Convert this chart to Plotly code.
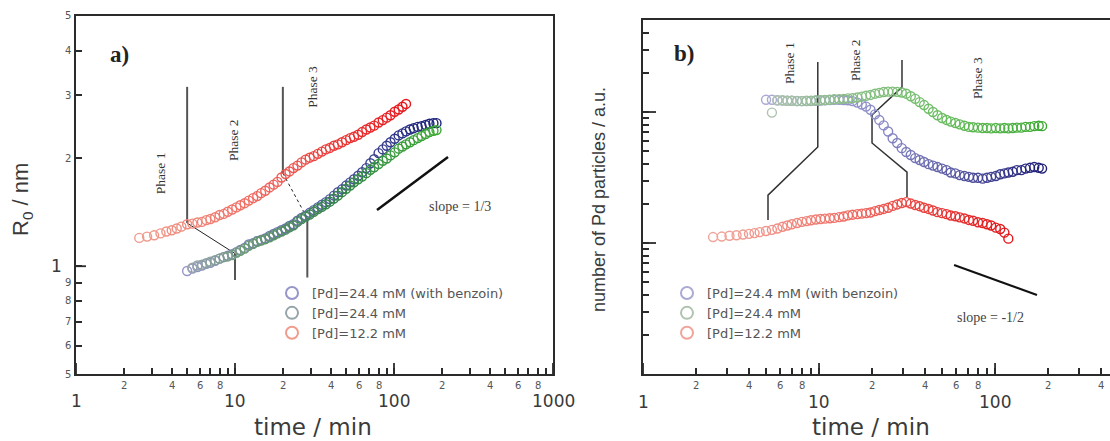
import math
import plotly.graph_objects as go

# ---------------- data ----------------
# sampling times (min)
t_red = [2.5, 2.8, 3.1, 3.4, 3.7, 4.0, 4.3, 4.6, 5.0, 5.4,
         5.8, 6.2, 6.6, 7.0, 7.5, 8.0, 8.5, 9.0, 9.6, 10.2,
         10.8, 11.5, 12.2, 13.0, 13.8, 14.6, 15.5, 16.5, 17.5, 18.5,
         19.6, 20.8, 22.0, 23.3, 24.7, 26.2, 27.8, 29.5, 31.3, 33.2,
         35.2, 37.3, 39.5, 41.9, 44.4, 47.1, 50.0, 53, 56, 59.5,
         63, 67, 71, 75, 80, 85, 90, 95, 101, 107,
         113, 119]
t_blue = [5.0, 5.4, 5.8, 6.2, 6.6, 7.0, 7.5, 8.0, 8.5, 9.0,
          9.6, 10.2, 10.8, 11.5, 12.2, 13.0, 13.8, 14.6, 15.5, 16.5,
          17.5, 18.5, 19.6, 20.8, 22.0, 23.3, 24.7, 26.2, 27.8, 29.5,
          31.3, 33.2, 35.2, 37.3, 39.5, 41.9, 44.4, 47.1, 50.0, 53,
          56, 59.5, 63, 67, 71, 75, 80, 85, 90, 95,
          101, 107, 113, 119, 126, 133, 141, 149, 158, 167,
          177, 185]
t_green = [5.4, 5.8, 6.2, 6.6, 7.0, 7.5, 8.0, 8.5, 9.0, 9.6,
           10.2, 10.8, 11.5, 12.2, 13.0, 13.8, 14.6, 15.5, 16.5, 17.5,
           18.5, 19.6, 20.8, 22.0, 23.3, 24.7, 26.2, 27.8, 29.5, 31.3,
           33.2, 35.2, 37.3, 39.5, 41.9, 44.4, 47.1, 50.0, 53, 56,
           59.5, 63, 67, 71, 75, 80, 85, 90, 95, 101,
           107, 113, 119, 126, 133, 141, 149, 158, 167, 177,
           185]

# particle radius R0 (nm)
r0_red = [1.20, 1.21, 1.22, 1.235, 1.25, 1.26, 1.275, 1.29, 1.31, 1.315,
          1.325, 1.33, 1.345, 1.355, 1.37, 1.39, 1.40, 1.42, 1.44, 1.46,
          1.48, 1.50, 1.525, 1.55, 1.57, 1.60, 1.625, 1.66, 1.69, 1.72,
          1.77, 1.81, 1.84, 1.88, 1.91, 1.95, 1.985, 2.01, 2.03, 2.06,
          2.09, 2.12, 2.14, 2.17, 2.19, 2.22, 2.25, 2.28, 2.30, 2.33,
          2.37, 2.41, 2.44, 2.47, 2.52, 2.56, 2.60, 2.64, 2.70, 2.74,
          2.79, 2.84]
r0_blue = [0.97, 0.985, 0.995, 1.005, 1.015, 1.022, 1.035, 1.05, 1.06, 1.07,
           1.08, 1.095, 1.11, 1.125, 1.15, 1.16, 1.175, 1.185, 1.195, 1.215,
           1.23, 1.245, 1.26, 1.275, 1.295, 1.31, 1.34, 1.365, 1.385, 1.41,
           1.435, 1.46, 1.485, 1.51, 1.54, 1.575, 1.61, 1.64, 1.68, 1.715,
           1.75, 1.79, 1.83, 1.88, 1.94, 1.99, 2.07, 2.12, 2.17, 2.22,
           2.27, 2.32, 2.35, 2.38, 2.41, 2.43, 2.45, 2.46, 2.48, 2.50,
           2.51, 2.51]
r0_green = [0.99, 1.005, 1.01, 1.02, 1.03, 1.04, 1.05, 1.06, 1.065, 1.075,
            1.09, 1.105, 1.12, 1.14, 1.155, 1.17, 1.18, 1.19, 1.205, 1.22,
            1.235, 1.25, 1.265, 1.285, 1.30, 1.33, 1.355, 1.375, 1.395, 1.42,
            1.445, 1.465, 1.49, 1.515, 1.545, 1.575, 1.61, 1.645, 1.68, 1.715,
            1.75, 1.78, 1.82, 1.86, 1.89, 1.93, 1.97, 2.00, 2.04, 2.08,
            2.13, 2.16, 2.19, 2.22, 2.25, 2.28, 2.31, 2.34, 2.37, 2.39,
            2.40]

# number of Pd particles (a.u.)
n_red = [1.11, 1.12, 1.135, 1.145, 1.16, 1.175, 1.19, 1.21, 1.235, 1.26,
         1.29, 1.33, 1.36, 1.39, 1.42, 1.45, 1.47, 1.49, 1.51, 1.525,
         1.535, 1.545, 1.555, 1.575, 1.595, 1.625, 1.645, 1.66, 1.675, 1.69,
         1.71, 1.75, 1.785, 1.82, 1.86, 1.92, 1.97, 2.02, 2.05, 2.0,
         1.95, 1.91, 1.86, 1.82, 1.77, 1.72, 1.69, 1.66, 1.62, 1.60,
         1.57, 1.54, 1.50, 1.48, 1.44, 1.42, 1.39, 1.36, 1.31, 1.28,
         1.20, 1.08]
n_blue = [12.4, 12.4, 12.3, 12.25, 12.2, 12.2, 12.15, 12.1, 12.1, 12.15,
          12.2, 12.25, 12.3, 12.35, 12.4, 12.4, 12.35, 12.3, 12.1, 11.8,
          11.4, 11.0, 10.4, 9.6, 8.7, 7.9, 7.1, 6.3, 5.8, 5.3,
          4.95, 4.7, 4.45, 4.3, 4.15, 4.0, 3.9, 3.8, 3.7, 3.6,
          3.45, 3.4, 3.3, 3.25, 3.2, 3.15, 3.15, 3.1, 3.15, 3.2,
          3.25, 3.35, 3.4, 3.45, 3.5, 3.6, 3.6, 3.7, 3.75, 3.8,
          3.75, 3.7]
n_green = [9.9, 12.3, 12.3, 12.2, 12.2, 12.1, 12.1, 12.2, 12.2, 12.3,
           12.3, 12.35, 12.4, 12.5, 12.55, 12.6, 12.7, 12.75, 12.9, 13.1,
           13.3, 13.5, 13.8, 14.0, 14.2, 14.3, 14.3, 14.25, 14.1, 13.8,
           13.2, 12.6, 11.9, 11.3, 10.6, 10.0, 9.45, 9.0, 8.7, 8.45,
           8.25, 8.05, 7.85, 7.7, 7.65, 7.6, 7.55, 7.55, 7.5, 7.55,
           7.5, 7.55, 7.5, 7.55, 7.6, 7.6, 7.7, 7.7, 7.8, 7.85,
           7.8]

series_names = ["[Pd]=24.4 mM (with benzoin)", "[Pd]=24.4 mM", "[Pd]=12.2 mM"]

# tick values and labels
x_decades = [1, 10, 100, 1000]
x_decade_text = ["1", "10", "100", "1000"]
x_small = [2, 4, 6, 8, 20, 40, 60, 80, 200, 400, 600, 800]
x_small_text = ["2", "4", "6", "8"] * 3
x_minor = [m * d for d in (1, 10, 100) for m in range(2, 10)]

ya_small = [0.5, 0.6, 0.7, 0.8, 0.9, 2, 3, 4, 5]
ya_small_text = ["5", "6", "7", "8", "9", "2", "3", "4", "5"]
yb_decades = [1, 10]
yb_minor = [round(m * d, 3) for d in (0.1, 1, 10) for m in range(2, 10) if m * d <= 50]


# ---------------- styling helpers ----------------
def ramp(n, stops):
    """Colour gradient along a series (early points pale, late points saturated)."""
    out = []
    for i in range(n):
        f = i / (n - 1)
        c = stops[-1][1]
        for (f0, c0), (f1, c1) in zip(stops[:-1], stops[1:]):
            if f0 <= f <= f1:
                w = (f - f0) / (f1 - f0) if f1 > f0 else 0.0
                c = tuple(round(a + (b - a) * w) for a, b in zip(c0, c1))
                break
        out.append("rgb(%d,%d,%d)" % c)
    return out


AXC = "#2b2b2b"
TXT = "#3a3a3a"
SANS = "DejaVu Sans, Arial, sans-serif"
SANS_N = "Liberation Sans, Arial, sans-serif"
SERIF = "Liberation Serif, Times New Roman, serif"
L = math.log10

fig = go.Figure()


def line_trace(xs, ys, xa, ya, color, width, dash="solid"):
    fig.add_trace(go.Scatter(x=xs, y=ys, xaxis=xa, yaxis=ya, mode="lines",
                             line=dict(color=color, width=width, dash=dash),
                             showlegend=False, hoverinfo="skip"))


# phase brackets, panel a
line_trace([5, 5], [3.17, 1.32], "x", "y", "#555555", 2)
line_trace([5, 10], [1.32, 1.085], "x", "y", "#222222", 1)
line_trace([10, 10], [1.085, 0.915], "x", "y", "#555555", 2)
line_trace([20, 20], [3.17, 1.82], "x", "y", "#555555", 2)
line_trace([20, 28.5], [1.82, 1.36], "x", "y", "#222222", 1, "dot")
line_trace([28.5, 28.5], [1.36, 0.93], "x", "y", "#555555", 2)
# slope guide, panel a
line_trace([78.2, 218.6], [1.436, 2.02], "x", "y", "#111111", 2.5)

# phase brackets, panel b
line_trace([9.84, 9.84, 5.13, 5.13], [24.1, 5.41, 2.32, 1.50], "x2", "y2", "#333333", 1.5)
line_trace([29.6, 29.6, 20.0, 20.0, 31.6, 31.6], [24.9, 15.5, 9.49, 5.8, 3.48, 2.24],
           "x2", "y2", "#333333", 1.5)
# slope guide, panel b
line_trace([58.5, 173], [0.679, 0.401], "x2", "y2", "#111111", 2)

# data
pal_a = [
    [(0, (150, 150, 200)), (0.5, (90, 100, 165)), (1, (25, 30, 120))],
    [(0, (150, 165, 170)), (0.2, (110, 155, 120)), (0.55, (50, 130, 75)), (1, (60, 170, 50))],
    [(0, (240, 155, 140)), (0.35, (240, 110, 100)), (1, (230, 20, 25))],
]
pal_b = [
    [(0, (170, 170, 210)), (0.4, (140, 140, 200)), (1, (30, 30, 120))],
    [(0, (175, 195, 175)), (0.15, (150, 190, 150)), (0.6, (110, 190, 100)), (1, (60, 170, 50))],
    [(0, (240, 165, 155)), (0.4, (240, 110, 100)), (1, (225, 20, 25))],
]
sets_a = [(t_blue, r0_blue), (t_green, r0_green), (t_red, r0_red)]
sets_b = [(t_blue, n_blue), (t_green, n_green), (t_red, n_red)]

for name, (tt, vv), pal in zip(series_names, sets_a, pal_a):
    fig.add_trace(go.Scatter(
        x=tt, y=vv, xaxis="x", yaxis="y", mode="markers", name=name,
        legend="legend",
        marker=dict(symbol="circle-open", size=9, color=ramp(len(tt), pal),
                    line=dict(width=1.4))))
for name, (tt, vv), pal in zip(series_names, sets_b, pal_b):
    fig.add_trace(go.Scatter(
        x=tt, y=vv, xaxis="x2", yaxis="y2", mode="markers", name=name,
        legend="legend2",
        marker=dict(symbol="circle-open", size=9, color=ramp(len(tt), pal),
                    line=dict(width=1.4))))

# ---------------- axes ----------------
dom_a = [76 / 1110, 553 / 1110]
dom_b = [643 / 1110, 1.0]
dom_ya = [1 - 374 / 441, 1 - 16 / 441]
dom_yb = [1 - 374 / 441, 1 - 20 / 441]


def log_axis(domain, rng, anchor, vals, mirror):
    return dict(type="log", showgrid=False, zeroline=False, domain=domain, range=rng,
                anchor=anchor, mirror=mirror, showline=True, linewidth=2, linecolor=AXC,
                ticks="inside", tickmode="array", tickvals=vals, showticklabels=False,
                ticklen=6, tickwidth=1.8, tickcolor=AXC)


fig.update_layout(
    width=1110, height=441, margin=dict(l=0, r=0, t=0, b=0),
    paper_bgcolor="white", plot_bgcolor="white",
    xaxis=log_axis(dom_a, [0, 3], "y", x_decades + x_minor, True),
    xaxis2=log_axis(dom_b, [0, 2.653], "y2", x_decades + x_minor, True),
    yaxis=log_axis(dom_ya, [L(0.5), L(5)], "x", [1] + ya_small, True),
    yaxis2=log_axis(dom_yb, [-1, L(50.4)], "x2", yb_decades + yb_minor, False),
    legend=dict(x=272 / 1110, y=1 - 278 / 441, xanchor="left", yanchor="top",
                bgcolor="rgba(0,0,0,0)", font=dict(family=SANS, size=13, color="#555555"),
                itemsizing="constant", tracegroupgap=0),
    legend2=dict(x=667 / 1110, y=1 - 278 / 441, xanchor="left", yanchor="top",
                 bgcolor="rgba(0,0,0,0)", font=dict(family=SANS, size=13, color="#555555"),
                 itemsizing="constant", tracegroupgap=0),
    showlegend=True,
)

# longer ticks at the decades
tick_style = dict(type="line", line=dict(color=AXC, width=1.8), layer="above", opacity=1)
for v in x_decades:
    fig.add_shape(xref="x", yref="y domain", x0=v, x1=v, y0=0, y1=11 / 358, **tick_style)
    if v < 1000:
        fig.add_shape(xref="x2", yref="y2 domain", x0=v, x1=v, y0=0, y1=11 / 354,
                      **tick_style)
fig.add_shape(xref="x domain", yref="y", x0=0, x1=10 / 477, y0=1, y1=1, **tick_style)
for v in yb_decades:
    fig.add_shape(xref="x2 domain", yref="y2", x0=0, x1=13 / 467, y0=v, y1=v, **tick_style)

# ---------------- text ----------------


def note(text, x, y, xref, yref, size, family, color=TXT, angle=0, bold=False,
         xanchor="center"):
    fig.add_annotation(text=("<b>%s</b>" % text) if bold else text, x=x, y=y,
                       xref=xref, yref=yref, showarrow=False, textangle=angle,
                       xanchor=xanchor, yanchor="middle",
                       font=dict(size=size, family=family, color=color))


# tick labels
for xr, hi, ylab in (("x", 3, 401), ("x2", 2.653, 402)):
    for v, s in zip(x_decades, x_decade_text):
        if L(v) <= hi:
            note(s, L(v), 1 - ylab / 441, xr, "paper", 17, SANS, TXT)
    for v, s in zip(x_small, x_small_text):
        if L(v) <= hi:
            note(s, L(v), 1 - 385 / 441, xr, "paper", 10, SANS, "#555555")
for v, s in zip(ya_small, ya_small_text):
    note(s, 73 / 1110, L(v), "paper", "y", 10, SANS, "#555555", xanchor="right")
note("1", 64 / 1110, 0, "paper", "y", 17, SANS, TXT, xanchor="right")

# panel a
note("a)", L(1.865), L(3.9), "x", "y", 23, SERIF, "#222222", bold=True)
note("Phase 1", L(3.38), L(1.82), "x", "y", 13.5, SERIF, "#333333", -90)
note("Phase 2", L(9.7), L(2.25), "x", "y", 13.5, SERIF, "#333333", -90)
note("Phase 3", L(30.9), L(3.17), "x", "y", 13.5, SERIF, "#333333", -90)
note("slope = 1/3", L(260), L(1.464), "x", "y", 14, SERIF, "#444444")
note("R<sub>0</sub> / nm", 22 / 1110, 1 - 200 / 441, "paper", "paper", 22, SANS_N, TXT, -90)
note("time / min", 313 / 1110, 1 - 427 / 441, "paper", "paper", 23, SANS, TXT)

# panel b
note("b)", 0.233, 1.443, "x2", "y2", 23, SERIF, "#222222", bold=True)
note("Phase 1", L(6.84), L(23.7), "x2", "y2", 13.5, SERIF, "#333333", -90)
note("Phase 2", L(16.0), L(24.9), "x2", "y2", 13.5, SERIF, "#333333", -90)
note("Phase 3", L(80), L(18.2), "x2", "y2", 13.5, SERIF, "#333333", -90)
note("slope = -1/2", 1.9716, -0.565, "x2", "y2", 14, SERIF, "#444444")
note("number of Pd particles / a.u.", 599 / 1110, 1 - 200 / 441, "paper", "paper",
     18, SANS_N, TXT, -90)
note("time / min", 871 / 1110, 1 - 427 / 441, "paper", "paper", 23, SANS, TXT)

fig.write_html("out.html")
